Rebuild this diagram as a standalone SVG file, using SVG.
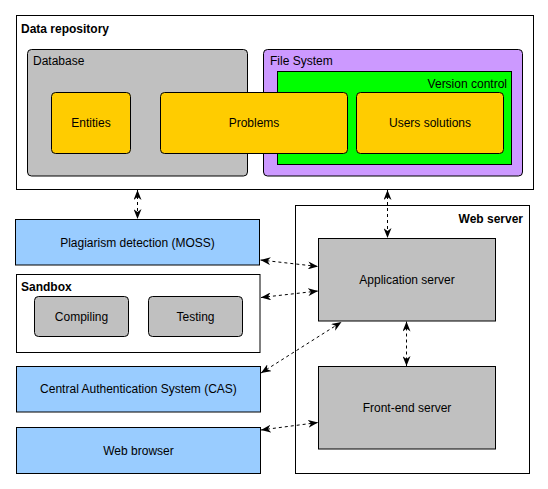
<svg xmlns="http://www.w3.org/2000/svg" width="548" height="489" viewBox="0 0 548 489">
<defs>
<marker id="arr" viewBox="0 0 10 8" refX="10" refY="4" markerWidth="10" markerHeight="8" markerUnits="userSpaceOnUse" orient="auto-start-reverse">
<path d="M0,0 L10,4 L0,8 L3,4 Z" fill="#000"/>
</marker>
</defs>
<style>
text{font-family:"Liberation Sans",Arial,sans-serif;font-size:12px;fill:#000}
.b{font-weight:bold}
.m{text-anchor:middle;dominant-baseline:central}
.box{stroke:#000;stroke-width:1}
.white{fill:#fff}
.grey{fill:#c0c0c0}
.yel{fill:#ffcc00}
.blue{fill:#99ccff}
.conn{fill:none;stroke:#000;stroke-width:1;stroke-dasharray:3 3;marker-start:url(#arr);marker-end:url(#arr)}
</style>
<rect width="548" height="489" fill="#fff"/>
<g id="data-repository">
<rect class="box white" x="16.5" y="15.5" width="517" height="174"/>
<text class="b" x="21" y="33">Data repository</text>
</g>
<g id="database">
<rect class="box grey" x="27.5" y="49.5" width="220" height="126.5" rx="4"/>
<text x="33" y="65">Database</text>
</g>
<g id="file-system">
<rect class="box" fill="#cc99ff" x="263.5" y="49.5" width="259" height="126.5" rx="4"/>
<text x="270" y="65">File System</text>
</g>
<g id="version-control">
<rect class="box" fill="#00ff00" x="277.5" y="71.5" width="234" height="93"/>
<text x="507" y="88" text-anchor="end">Version control</text>
</g>
<g id="entities">
<rect class="box yel" x="51.5" y="92.5" width="79" height="61" rx="4"/>
<text class="m" x="91" y="123">Entities</text>
</g>
<g id="problems">
<rect class="box yel" x="160.5" y="92.5" width="187" height="61" rx="4"/>
<text class="m" x="254" y="123">Problems</text>
</g>
<g id="users-solutions">
<rect class="box yel" x="356.5" y="92.5" width="147" height="61" rx="4"/>
<text class="m" x="430" y="123">Users solutions</text>
</g>
<g id="plagiarism">
<rect class="box blue" x="15.5" y="219.5" width="244" height="45.5"/>
<text class="m" x="137.5" y="242.5">Plagiarism detection (MOSS)</text>
</g>
<g id="sandbox">
<rect class="box white" x="16.5" y="274.5" width="243.5" height="78"/>
<text class="b" x="21" y="291">Sandbox</text>
</g>
<g id="compiling">
<rect class="box grey" x="34.5" y="296.5" width="94" height="40" rx="4"/>
<text class="m" x="81.5" y="316.5">Compiling</text>
</g>
<g id="testing">
<rect class="box grey" x="148.5" y="296.5" width="94" height="40" rx="4"/>
<text class="m" x="195.5" y="316.5">Testing</text>
</g>
<g id="cas">
<rect class="box blue" x="16.5" y="366.5" width="244" height="45.5"/>
<text class="m" x="138.5" y="389">Central Authentication System (CAS)</text>
</g>
<g id="web-browser">
<rect class="box blue" x="16.5" y="427.5" width="244" height="46"/>
<text class="m" x="138.5" y="450.5">Web browser</text>
</g>
<g id="web-server">
<rect class="box white" x="295.5" y="205.5" width="234" height="268"/>
<text class="b" x="523" y="223" text-anchor="end">Web server</text>
</g>
<g id="application-server">
<rect class="box grey" x="318.5" y="238.5" width="177" height="82.5"/>
<text class="m" x="407" y="280">Application server</text>
</g>
<g id="front-end-server">
<rect class="box grey" x="318.5" y="366.5" width="177" height="82.5"/>
<text class="m" x="407" y="408">Front-end server</text>
</g>
<g id="connectors">
<path class="conn" d="M137.5,190 L137.5,219"/>
<path class="conn" d="M387.5,190 L387.5,238"/>
<path class="conn" d="M260.5,260 L318,266.5"/>
<path class="conn" d="M261,297.5 L318,291"/>
<path class="conn" d="M261,373 L341.5,322"/>
<path class="conn" d="M261,430 L318,422.5"/>
<path class="conn" d="M406.5,321.5 L406.5,366"/>
</g>
</svg>
